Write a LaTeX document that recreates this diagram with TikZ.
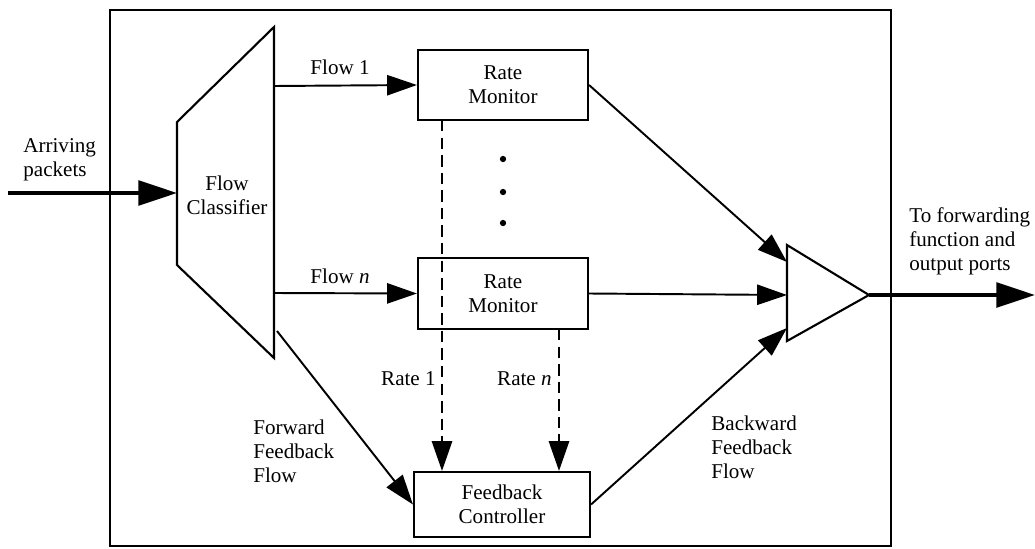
\documentclass[tikz,border=0pt]{standalone}
\usepackage{fontspec}
\setmainfont{Liberation Serif}
\usetikzlibrary{arrows.meta,calc}

\tikzset{
  block/.style={draw, line width=1.2pt, rectangle, align=center},
  lbl/.style={align=left, inner sep=0pt, font=\fontsize{12}{13.6}\selectfont},
  link/.style={line width=1.1pt, -{Triangle[length=17pt,width=11.5pt]}},
  thicklink/.style={line width=2.3pt, -{Triangle[length=22pt,width=14pt]}},
  ratelink/.style={link, line width=1.3pt, dash pattern=on 6.5pt off 3.5pt}
}

\begin{document}
\begin{tikzpicture}[x=0.02cm, y=-0.02cm, font=\fontsize{12}{13.6}\selectfont]
	\useasboundingbox (0,0) rectangle (1035,548);
	% router frame
	\draw[line width=1.1pt] (110,10) rectangle (891,546);

	% flow classifier
	\draw[line width=1.2pt] (274,27) -- (177,122) -- (177,265) -- (274,358) -- cycle;
	\node[lbl, align=center] (fc) at (227,195) {Flow\\Classifier};
	\coordinate (cin) at (177,193);
	\coordinate (c1) at (274,86);
	\coordinate (cn) at (274,293);
	\coordinate (cf) at (277,331);

	% blocks
	\node[block, minimum width=3.4cm, minimum height=1.4cm] (rm1) at (503,85) {Rate\\Monitor};
	\node[block, minimum width=3.4cm, minimum height=1.42cm] (rmn) at (503,293.5) {Rate\\Monitor};
	\node[block, minimum width=3.52cm, minimum height=1.3cm] (fbc) at (502,504.5) {Feedback\\Controller};

	% output stage
	\draw[line width=1.2pt, fill=white] (787,245) -- (869,295) -- (787,341) -- cycle;
	\coordinate (m1) at (787,262);
	\coordinate (mn) at (787,295);
	\coordinate (mf) at (787,328);
	\coordinate (mout) at (869,295);
	\coordinate (in) at (8,193);
	\coordinate (out) at (1035,295);

	% dots
	\foreach \y in {159,192,223}
		\fill (503,\y) circle (1.8pt);

	% connectors
	\draw[thicklink] (in) -- (cin);
	\draw[link] (c1) -- (rm1.west);
	\draw[link] (cn) -- (rmn.west);
	\draw[link] (cf) -- (fbc.west);
	\draw[link] (rm1.east) -- (m1);
	\draw[link] (rmn.east) -- (mn);
	\draw[link] (fbc.east) -- (mf);
	\draw[thicklink] (mout) -- (out);

	\coordinate (d1) at (442,120);
	\coordinate (dn) at (559,329);
	\draw[ratelink] (d1) -- (d1 |- fbc.north);
	\draw[ratelink] (dn) -- (dn |- fbc.north);

	% labels
	\node[lbl, anchor=west] (arr) at (23,160) {Arriving\\packets};
	\node[lbl] (f1) at (340,67) {Flow 1};
	\node[lbl] (fn) at (340,276) {Flow \textit{n}};
	\node[lbl, anchor=east] (r1) at (436,379) {Rate 1};
	\node[lbl, anchor=east] (rn) at (552,379) {Rate \textit{n}};
	\node[lbl, anchor=west] (fwd) at (253,451) {Forward\\Feedback\\Flow};
	\node[lbl, anchor=west] (bwd) at (711,447) {Backward\\Feedback\\Flow};
	\node[lbl, anchor=west] (to) at (909,241) {To forwarding\\function and\\output ports};
\end{tikzpicture}
\end{document}
